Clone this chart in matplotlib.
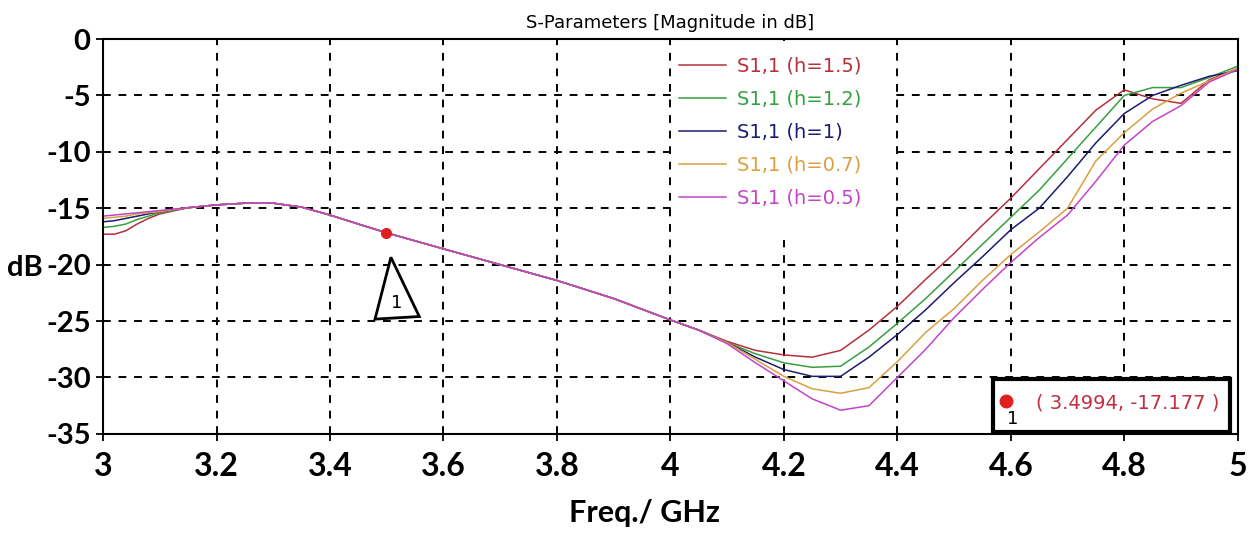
import matplotlib
matplotlib.use('Agg')
import matplotlib.pyplot as plt
from matplotlib.patches import Rectangle, Polygon

plt.rcParams['axes.unicode_minus'] = False

# frequency grid (GHz) and S11 (dB)
freq = [3.0, 3.02, 3.04, 3.06, 3.08, 3.1, 3.15, 3.2, 3.25, 3.3, 3.35, 3.4, 3.45, 3.5,
        3.6, 3.7, 3.8, 3.9, 4.0, 4.05, 4.1, 4.15, 4.2, 4.25, 4.3, 4.35, 4.4, 4.45, 4.5,
        4.55, 4.6, 4.65, 4.7, 4.75, 4.8, 4.85, 4.9, 4.95, 5.0]

common = [-14.95, -14.7, -14.55, -14.55, -14.9, -15.6, -16.4, -17.18,
          -18.6, -20.0, -21.4, -23.0, -24.9, -25.8]

s11_h15 = [-17.3, -17.3, -17.0, -16.4, -15.9, -15.5] + common + \
    [-26.8, -27.6, -28.0, -28.2, -27.6, -25.8, -23.7, -21.3, -19.0,
     -16.5, -14.1, -11.5, -8.9, -6.3, -4.5, -5.3, -5.7, -3.6, -2.6]
s11_h12 = [-16.7, -16.6, -16.4, -16.0, -15.7, -15.4] + common + \
    [-26.9, -27.9, -28.7, -29.1, -29.0, -27.3, -25.2, -23.0, -20.6,
     -18.2, -15.8, -13.4, -10.6, -7.8, -5.0, -4.3, -4.3, -3.4, -2.4]
s11_h1 = [-16.2, -16.1, -15.9, -15.7, -15.5, -15.3] + common + \
    [-26.9, -28.2, -29.3, -29.9, -29.9, -28.2, -26.2, -24.0, -21.6,
     -19.3, -16.9, -15.0, -12.2, -9.2, -6.6, -5.0, -4.1, -3.3, -2.8]
s11_h07 = [-15.9, -15.8, -15.7, -15.5, -15.4, -15.3] + common + \
    [-26.9, -28.4, -29.9, -31.0, -31.4, -30.9, -28.6, -26.0, -23.9,
     -21.4, -19.1, -17.1, -15.0, -10.8, -8.3, -6.2, -4.8, -3.7, -2.6]
s11_h05 = [-15.7, -15.6, -15.5, -15.4, -15.3, -15.2] + common + \
    [-27.0, -28.7, -30.3, -31.9, -32.9, -32.5, -30.0, -27.5, -24.7,
     -22.2, -19.8, -17.6, -15.6, -12.6, -9.4, -7.3, -5.9, -3.8, -2.7]

labels = ['S1,1 (h=1.5)', 'S1,1 (h=1.2)', 'S1,1 (h=1)', 'S1,1 (h=0.7)', 'S1,1 (h=0.5)']
colors = ['#b5303a', '#35a040', '#1c1c70', '#d9a040', '#c444c8']
series = [s11_h15, s11_h12, s11_h1, s11_h07, s11_h05]

marker_f = 3.4994
marker_db = -17.177

bold_font = ['Lato', 'DejaVu Sans']

fig = plt.figure(figsize=(12.58, 5.35), dpi=100)
ax = fig.add_axes([0.0819, 0.189, 0.902, 0.738])

for y, c, lab in zip(series, colors, labels):
    ax.plot(freq, y, color=c, lw=1.1, label=lab)

ax.set_xlim(3, 5)
ax.set_ylim(-35, 0)
ax.set_xticks([3, 3.2, 3.4, 3.6, 3.8, 4, 4.2, 4.4, 4.6, 4.8, 5])
ax.set_xticklabels(['3', '3.2', '3.4', '3.6', '3.8', '4', '4.2', '4.4', '4.6', '4.8', '5'])
ax.set_yticks(range(-35, 1, 5))
for t in ax.get_xticklabels():
    t.set_family(bold_font)
    t.set_fontweight('bold')
    t.set_fontsize(23)
for t in ax.get_yticklabels():
    t.set_family(bold_font)
    t.set_fontweight('bold')
    t.set_fontsize(21)
ax.tick_params(axis='x', length=5, width=1.3, pad=8)
ax.tick_params(axis='y', length=5, width=1.3, pad=4)
ax.grid(True, color='black', linestyle=(0, (4, 4)), linewidth=1.4)
for s in ax.spines.values():
    s.set_linewidth(1.5)

ax.set_title('S-Parameters [Magnitude in dB]', fontsize=13, pad=8)
ax.set_xlabel('Freq./ GHz', fontsize=22, fontweight='bold', family=bold_font, va='center')
ax.xaxis.set_label_coords(0.477, -0.2)
ax.set_ylabel('dB', fontsize=21, fontweight='bold', family=bold_font, rotation=0,
              ha='right', va='center')
ax.yaxis.set_label_coords(-0.053, 0.42)

# white patch behind the legend hides the grid there
ax.add_patch(Rectangle((0.502, 0.49), 0.196, 0.505, transform=ax.transAxes,
                       facecolor='white', edgecolor='none', zorder=1.6))
ax.legend(loc='upper left', bbox_to_anchor=(0.508, 0.955), frameon=False,
          labelcolor='linecolor', fontsize=14, handlelength=2.4,
          handletextpad=0.55, labelspacing=0.72, borderpad=0, borderaxespad=0)

# marker 1
ax.plot([marker_f], [marker_db], 'o', color='#e02020', ms=7, zorder=5)
tri = Polygon([(marker_f + 0.008, marker_db - 2.17), (marker_f - 0.02, marker_db - 7.65),
               (marker_f + 0.058, marker_db - 7.42)], closed=True,
              facecolor='white', edgecolor='black', lw=2, zorder=4)
ax.add_patch(tri)
ax.text(marker_f + 0.019, marker_db - 6.2, '1', fontsize=13, ha='center', va='center', zorder=6)

# marker readout box
box = Rectangle((0.784, 0.005), 0.209, 0.134, transform=ax.transAxes,
                facecolor='white', edgecolor='black', lw=3, zorder=6)
ax.add_patch(box)
ax.plot([0.796], [0.083], 'o', color='#e02020', ms=9, transform=ax.transAxes, zorder=7)
ax.text(0.802, 0.037, '1', fontsize=13, ha='center', va='center',
        transform=ax.transAxes, zorder=7)
ax.text(0.822, 0.078, f'( {marker_f}, {marker_db} )', fontsize=14, color='#c03040',
        ha='left', va='center', transform=ax.transAxes, zorder=7)

fig.savefig('out.png', dpi=100)
